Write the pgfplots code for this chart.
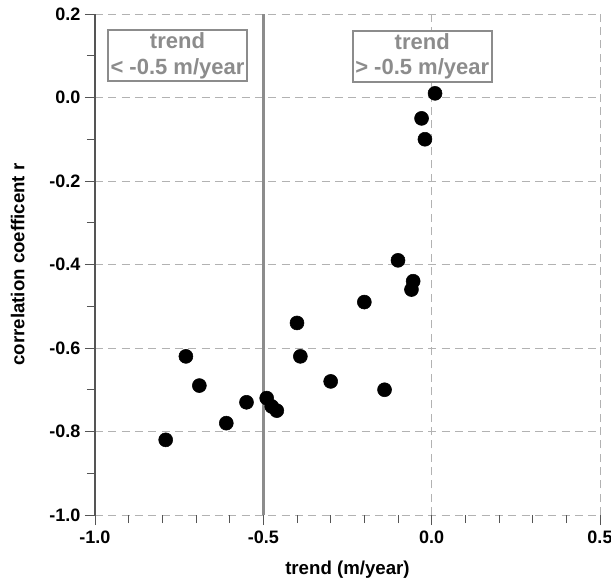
\documentclass[border=0pt]{standalone}
\usepackage{pgfplots}
\pgfplotsset{compat=1.18}
\usepackage{fontspec}
\setmainfont{Liberation Sans}
\setsansfont{Liberation Sans}
\definecolor{boxgray}{HTML}{8C8C8C}
\definecolor{axgray}{HTML}{555555}
\begin{document}
\begin{tikzpicture}
\begin{axis}[
  scale only axis,
  width=378.75pt, height=375.75pt,
  xmin=-1.0, xmax=0.5, ymin=-1.0, ymax=0.2,
  xtick={-1.0,-0.5,0.0,0.5},
  ytick={-1.0,-0.8,...,0.2},
  minor x tick num=4,
  minor y tick num=1,
  /pgf/number format/fixed,
  /pgf/number format/fixed zerofill,
  /pgf/number format/precision=1,
  /pgf/number format/assume math mode=true,
  ticklabel style={font=\bfseries\fontsize{13.5}{15}\selectfont, text=black},
  xticklabel style={yshift=-1pt},
  tick align=outside,
  major tick length=7.5pt,
  minor tick length=6pt,
  tick style={axgray, line width=0.7pt},
  axis x line*=bottom,
  axis y line*=left,
  x axis line style={draw=none},
  y axis line style={axgray, line width=0.9pt, -},
  grid=major,
  major grid style={gray!60, line width=0.7pt, dash pattern=on 6pt off 4pt},
  xlabel={trend (m/year)},
  ylabel={correlation coefficent r},
  label style={font=\bfseries\fontsize{14}{16}\selectfont},
  xlabel style={at={(rel axis cs:0.5,0)}, anchor=center, yshift=-41pt},
  ylabel style={at={(rel axis cs:0,0.5)}, anchor=center, yshift=58pt},
  clip=false,
]
% threshold at -0.5 m/year
\addplot[boxgray, line width=2.4pt] coordinates {(-0.5,-1.0) (-0.5,0.2)};
% stations
\addplot[only marks, mark=*, mark size=5.25pt, black] coordinates {
  (0.01,0.01) (-0.03,-0.05) (-0.02,-0.10)
  (-0.10,-0.39) (-0.055,-0.44) (-0.06,-0.46) (-0.20,-0.49)
  (-0.40,-0.54) (-0.39,-0.62) (-0.30,-0.68) (-0.14,-0.70)
  (-0.73,-0.62) (-0.69,-0.69) (-0.79,-0.82) (-0.61,-0.78)
  (-0.55,-0.73) (-0.49,-0.72) (-0.475,-0.74) (-0.46,-0.75)
};
\node[draw=boxgray, line width=1.6pt, fill=white, align=center, text=boxgray,
      font=\bfseries\fontsize{16.5}{19}\selectfont, inner sep=2pt]
  at (axis cs:-0.755,0.1) {trend\\< -0.5 m/year};
\node[draw=boxgray, line width=1.6pt, fill=white, align=center, text=boxgray,
      font=\bfseries\fontsize{16.5}{19}\selectfont, inner sep=2pt]
  at (axis cs:-0.028,0.099) {trend\\> -0.5 m/year};
\end{axis}
\pgfresetboundingbox
\path ([shift={(-71.25pt,-51pt)}]current axis.south west)
  rectangle ([shift={(8.25pt,10.5pt)}]current axis.north east);
\end{tikzpicture}
\end{document}
